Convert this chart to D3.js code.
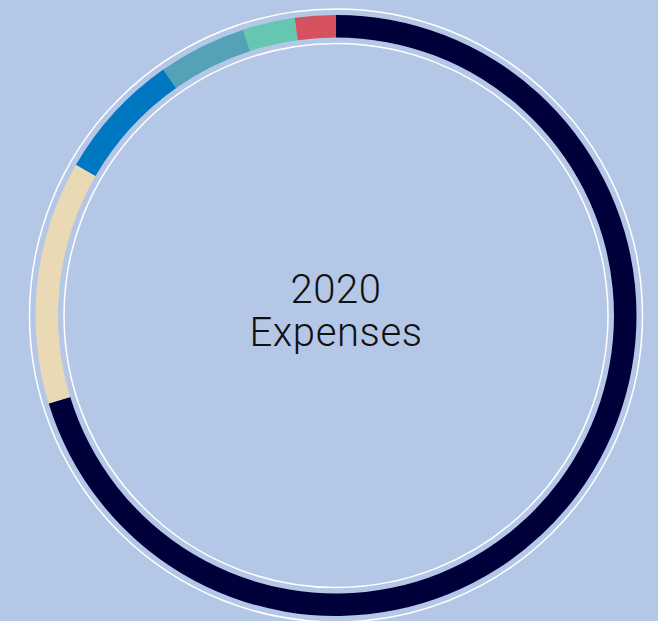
<!DOCTYPE html>
<html>
<head>
<meta charset="utf-8">
<script src="https://cdn.jsdelivr.net/npm/d3@7"></script>
<style>
  html, body { margin: 0; padding: 0; background: #b4c7e7; }
  svg { display: block; }
  .center-label { font-family: Roboto, "Liberation Sans", sans-serif; font-weight: 300; fill: #111; letter-spacing: 0.6px; }
</style>
</head>
<body>
<div id="chart"></div>
<script>
// expense shares (percent), clockwise from 12 o'clock
const categories = ["Operations", "Programs", "Personnel", "Facilities", "Marketing", "Other"]
const shares = [70.3, 13.1, 6.9, 4.75, 2.8, 2.2]
const colors = ["#00003a", "#e9d9b4", "#0077c1", "#55a1b8", "#65c7b1", "#d5515f"]
const titleLines = ["2020", "Expenses"]

const width = 658
const height = 621
const cx = 336
const cy = 315.5

const data = categories.map((c, i) => ({ category: c, value: shares[i], color: colors[i] }))

const svg = d3.select("#chart")
  .append("svg")
  .attr("width", width)
  .attr("height", height)

const g = svg.append("g")
  .attr("transform", `translate(${cx}, ${cy})`)

const pie = d3.pie()
  .value(d => d.value)
  .sort(null)

const arc = d3.arc()
  .innerRadius(278)
  .outerRadius(300.5)

g.selectAll("path.slice")
  .data(pie(data))
  .enter()
  .append("path")
    .classed("slice", true)
    .attr("d", arc)
    .attr("fill", d => d.data.color)

// thin white guide rings inside and outside the band
g.selectAll("circle.guide")
  .data([272, 306.5])
  .enter()
  .append("circle")
    .classed("guide", true)
    .attr("r", d => d)
    .attr("fill", "none")
    .attr("stroke", "#ffffff")
    .attr("stroke-width", 1.5)

const label = g.append("text")
  .classed("center-label", true)
  .attr("text-anchor", "middle")
  .style("font-size", "40px")

label.selectAll("tspan")
  .data(titleLines)
  .enter()
  .append("tspan")
    .attr("x", 0)
    .attr("y", (d, i) => -12.5 + i * 43)
    .text(d => d)
</script>
</body>
</html>
